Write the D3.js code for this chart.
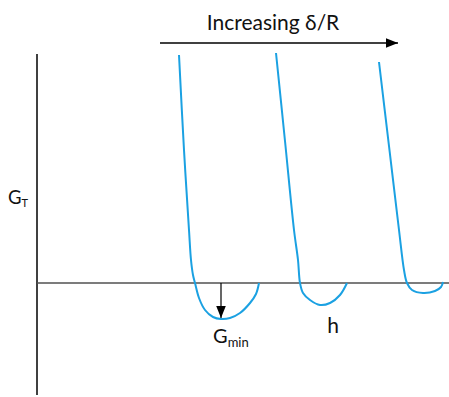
<!DOCTYPE html>
<html>
<head>
<meta charset="utf-8">
<script src="https://cdn.jsdelivr.net/npm/d3@7"></script>
<style>
  body { margin: 0; background: #fff; }
  svg text { font-family: Lato, "Open Sans", sans-serif; fill: #111; }
</style>
</head>
<body>
<svg id="mysvg" width="449" height="397"></svg>
<script>
// three G_T curves, x = separation (arb.), y = G (arb.), 0 = axis
let curve1X = [1.42, 1.47, 1.52, 1.54, 1.56, 1.58, 1.62, 1.68, 1.76, 1.84, 1.93, 2.03, 2.13, 2.19, 2.22];
let curve1Y = [2.28, 1.33, 0.53, 0.23, 0.08, 0.00, -0.15, -0.27, -0.34, -0.36, -0.35, -0.30, -0.20, -0.11, 0.00];
let curve2X = [2.39, 2.48, 2.57, 2.61, 2.63, 2.66, 2.73, 2.83, 2.93, 3.03, 3.10];
let curve2Y = [2.30, 1.42, 0.53, 0.23, 0.00, -0.10, -0.17, -0.22, -0.20, -0.12, 0.00];
let curve3X = [3.42, 3.52, 3.62, 3.67, 3.70, 3.75, 3.86, 3.98, 4.04, 4.06];
let curve3Y = [2.21, 1.37, 0.53, 0.13, 0.00, -0.07, -0.10, -0.08, -0.04, 0.01];
let xDomain = [0, 4.12];
let yDomain = [-1.12, 2.29];
let gminAt = 1.84;   // arrow from axis to curve-1 minimum
let gminDepth = -0.35;
let hAt = 2.96;
let arrowFrom = 1.23, arrowTo = 3.61;

var svg = d3.select("svg");
var x = d3.scaleLinear().domain(xDomain).range([37, 449]);
var y = d3.scaleLinear().domain(yDomain).range([395, 54]);

var defs = svg.append("defs");
defs.append("marker")
    .attr("id", "head")
    .attr("viewBox", "0 0 10 10")
    .attr("refX", 10).attr("refY", 5)
    .attr("markerWidth", 12).attr("markerHeight", 12)
    .attr("markerUnits", "userSpaceOnUse")
    .attr("orient", "auto")
    .append("path").attr("d", "M0,1 L10,5 L0,9 Z").attr("fill", "#000");

// axes
svg.append("line")
    .attr("x1", x(0)).attr("x2", x(0))
    .attr("y1", y(yDomain[0])).attr("y2", y(yDomain[1]))
    .attr("stroke", "#000").attr("stroke-width", 1.5);
svg.append("line")
    .attr("x1", x(0)).attr("x2", x(xDomain[1]))
    .attr("y1", y(0)).attr("y2", y(0))
    .attr("stroke", "#505050").attr("stroke-width", 1.7);

var line = d3.line()
    .x(function(d) { return x(d[0]); })
    .y(function(d) { return y(d[1]); })
    .curve(d3.curveCatmullRom.alpha(0.5));

[[curve1X, curve1Y], [curve2X, curve2Y], [curve3X, curve3Y]].forEach(function(c) {
    svg.append("path")
        .datum(d3.zip(c[0], c[1]))
        .attr("fill", "none")
        .attr("stroke", "#1ba1e2")
        .attr("stroke-width", 2)
        .attr("d", line);
});

// G_min arrow
svg.append("line")
    .attr("x1", x(gminAt)).attr("x2", x(gminAt))
    .attr("y1", y(0)).attr("y2", y(gminDepth))
    .attr("stroke", "#000").attr("stroke-width", 1.2)
    .attr("marker-end", "url(#head)");

// top arrow
svg.append("line")
    .attr("x1", x(arrowFrom)).attr("x2", x(arrowTo))
    .attr("y1", 43).attr("y2", 43)
    .attr("stroke", "#000").attr("stroke-width", 1.5)
    .attr("marker-end", "url(#head)");

svg.append("text")
    .attr("x", 273).attr("y", 30)
    .attr("text-anchor", "middle")
    .attr("font-size", "21px")
    .text("Increasing δ/R");

var gt = svg.append("text").attr("x", 8).attr("y", 204).attr("font-size", "18.5px");
gt.append("tspan").text("G");
gt.append("tspan").attr("font-size", "11px").attr("dy", 3).text("T");

var gm = svg.append("text").attr("x", 213).attr("y", 343).attr("font-size", "20px");
gm.append("tspan").text("G");
gm.append("tspan").attr("font-size", "13px").attr("dy", 4).text("min");

svg.append("text")
    .attr("x", x(hAt)).attr("y", 333)
    .attr("text-anchor", "middle")
    .attr("font-size", "21px")
    .text("h");
</script>
</body>
</html>
